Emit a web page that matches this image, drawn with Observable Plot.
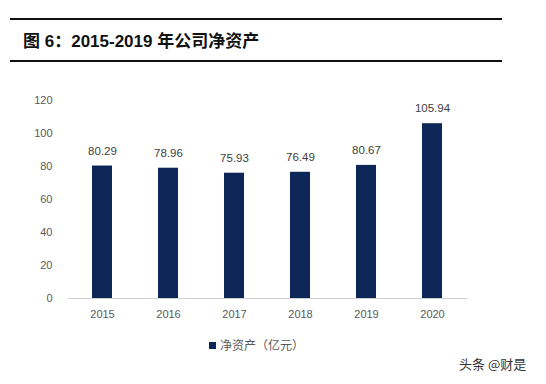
<!DOCTYPE html>
<html>
<head>
<meta charset="utf-8">
<script src="https://cdn.jsdelivr.net/npm/d3@7"></script>
<script src="https://cdn.jsdelivr.net/npm/@observablehq/plot@0.6"></script>
<style>
  html, body { margin: 0; padding: 0; background: #ffffff; }
  body { width: 546px; height: 384px; position: relative; overflow: hidden; font-family: "Liberation Sans", "Noto Sans CJK SC", sans-serif; }
  .rule { position: absolute; left: 10px; width: 492px; height: 2px; background: #111; }
  #title { position: absolute; left: 23px; top: 30px; font-size: 17px; font-weight: bold; color: #111; font-family: "Liberation Sans", "Noto Sans CJK SC", sans-serif; line-height: 24px; }
  #chart { position: absolute; left: 0; top: 80px; }
  #legend { position: absolute; left: 209px; top: 337px; font-size: 12px; color: #595959; font-family: "Noto Sans CJK SC", sans-serif; display: flex; align-items: center; line-height: 16px; }
  #legend .sw { width: 7px; height: 7px; background: #0c2757; margin-right: 4px; }
  #wm { position: absolute; left: 459px; top: 354px; font-size: 13px; color: #333; font-family: "Noto Sans CJK SC", sans-serif; }
</style>
</head>
<body>
<div class="rule" style="top:18px"></div>
<div id="title">图 6：2015-2019 年公司净资产</div>
<div class="rule" style="top:60px"></div>
<div id="chart"></div>
<div id="legend"><span class="sw"></span><span>净资产（亿元）</span></div>
<div id="wm">头条 @财是</div>
<script>
const years = ["2015", "2016", "2017", "2018", "2019", "2020"];
const netAssets = [80.29, 78.96, 75.93, 76.49, 80.67, 105.94];
const yTicks = [0, 20, 40, 60, 80, 100, 120];

const data = years.map((y, i) => ({year: y, value: netAssets[i]}));

const chart = Plot.plot({
  width: 546,
  height: 250,
  marginLeft: 68,
  marginRight: 79,
  marginTop: 20,
  marginBottom: 32,
  style: {fontFamily: "Liberation Sans, sans-serif", fontSize: "11px", color: "#595959", background: "transparent"},
  x: {domain: years, paddingInner: 0.692, paddingOuter: 0.346, label: null},
  y: {domain: [0, 120], label: null},
  marks: [
    Plot.axisY({ticks: yTicks, tickSize: 0, tickPadding: 16, label: null, fill: "#595959", fontSize: 11}),
    Plot.axisX({tickSize: 0, tickPadding: 12, label: null, fill: "#595959", fontSize: 11}),
    Plot.barY(data, {x: "year", y: "value", fill: "#0c2757"}),
    Plot.ruleY([0], {stroke: "#d0d0d0", strokeWidth: 1}),
    Plot.text(data, {x: "year", y: "value", text: d => d.value.toFixed(2), dy: -15, fill: "#404040", fontSize: 11.5})
  ]
});
document.getElementById("chart").appendChild(chart);
</script>
</body>
</html>
